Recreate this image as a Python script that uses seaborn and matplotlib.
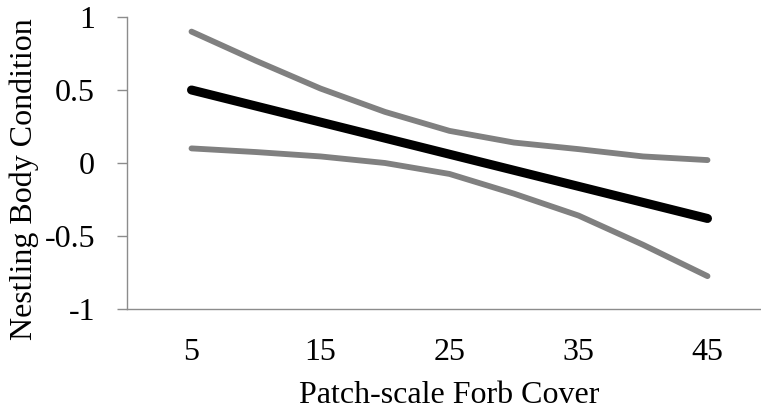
import matplotlib
matplotlib.use("Agg")
import matplotlib.pyplot as plt
import seaborn as sns
import pandas as pd

forb_cover = [5, 10, 15, 20, 25, 30, 35, 40, 45]
mean_pred = [0.50, 0.39, 0.28, 0.17, 0.06, -0.05, -0.16, -0.27, -0.38]
upper_ci = [0.90, 0.70, 0.51, 0.35, 0.22, 0.14, 0.095, 0.045, 0.02]
lower_ci = [0.10, 0.075, 0.045, 0.0, -0.075, -0.21, -0.36, -0.56, -0.775]
x_ticks = [5, 15, 25, 35, 45]
y_ticks = [-1, -0.5, 0, 0.5, 1]
y_tick_labels = ["-1", "-0.5", "0", "0.5", "1"]

df = pd.DataFrame({"x": forb_cover, "mean": mean_pred, "upper": upper_ci, "lower": lower_ci})

sns.set_theme(style="white")
plt.rcParams["font.family"] = ["Liberation Serif", "DejaVu Serif"]

fig = plt.figure(figsize=(7.61, 4.13), dpi=100)
W, H = 761, 413
ax = fig.add_axes([127 / W, (H - 309) / H, 645 / W, (309 - 17) / H])

gray = "#808080"
fs = 23
sns.lineplot(data=df, x="x", y="upper", ax=ax, color=gray, linewidth=4.2,
             solid_capstyle="round", solid_joinstyle="round")
sns.lineplot(data=df, x="x", y="lower", ax=ax, color=gray, linewidth=4.2,
             solid_capstyle="round", solid_joinstyle="round")
sns.lineplot(data=df, x="x", y="mean", ax=ax, color="black", linewidth=6.5,
             solid_capstyle="round", solid_joinstyle="round")

ax.set_xlim(0, 50)
ax.set_ylim(-1, 1)
ax.set_xticks(x_ticks)
ax.set_xticklabels([str(v) for v in x_ticks])
ax.set_yticks(y_ticks)
ax.set_yticklabels(y_tick_labels)

for s in ["top", "right"]:
    ax.spines[s].set_visible(False)
for s in ["left", "bottom"]:
    ax.spines[s].set_color("#8c8c8c")
    ax.spines[s].set_linewidth(1.0)

ax.tick_params(axis="y", which="major", direction="out", length=7, width=1.0,
               color="#8c8c8c", labelsize=fs, labelcolor="black", pad=16, left=True)
ax.tick_params(axis="x", which="major", length=0, labelsize=fs, labelcolor="black", pad=21)

ax.set_xlabel("Patch-scale Forb Cover", fontsize=fs, color="black", labelpad=10)
ax.set_ylabel("Nestling Body Condition", fontsize=fs, color="black")
ax.yaxis.set_label_coords(-0.137, 0.445)
ax.grid(False)

fig.savefig("out.png", dpi=100)
